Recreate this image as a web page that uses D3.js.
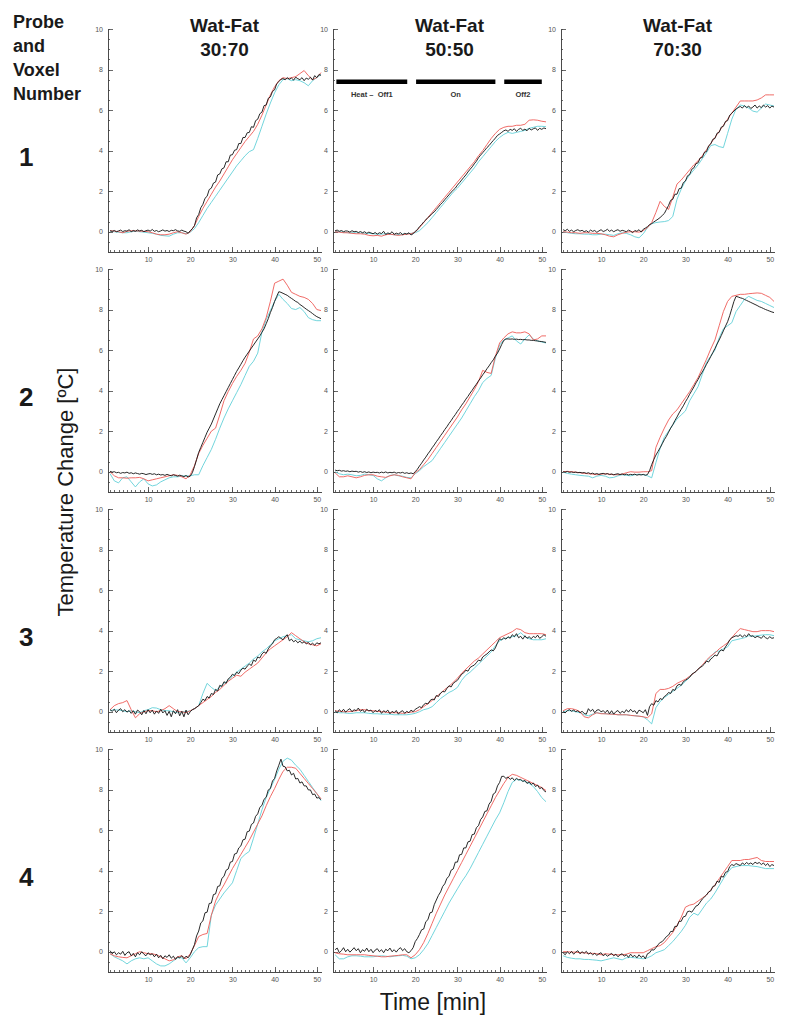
<!DOCTYPE html>
<html>
<head>
<meta charset="utf-8">
<title>Temperature change per probe and voxel</title>
<script src="https://cdn.jsdelivr.net/npm/d3@7"></script>
<style>
  body { margin: 0; background: #fff; }
  svg { display: block; }
  text { font-family: "Liberation Sans", Arial, sans-serif; }
  .tick text { fill: #555; font-size: 7px; }
  .axis path, .axis line { stroke: #444; stroke-width: 0.8; shape-rendering: crispEdges; }
</style>
</head>
<body>
<svg id="chart"></svg>
<script>
// sample grid: black = measured (every 0.5 min from t=1), red / cyan = fitted (every 1 min from t=1)
const T_START = 1,
    BLACK_STEP = 0.5,
    FIT_STEP = 1;

const mixtures = ['30:70', '50:50', '70:30'],
    probes = ['1', '2', '3', '4'],
    xTicks = [10, 20, 30, 40, 50],
    yTicks = [0, 2, 4, 6, 8, 10];

const phases = [
    {label: 'Heat \u2013\u00a0 Off1', start: 1.3, end: 18.1},
    {label: 'On', start: 20.2, end: 39.0},
    {label: 'Off2', start: 41.1, end: 50.0}
];
const phaseLevel = 7.4;

// ---- probe 1 ----
const blk11 = [
    0.05,0.02,0.06,0.00,0.04,0.08,0.01,0.05,0.03,0.10,
    0.00,0.06,0.02,0.09,0.04,0.07,0.00,0.05,0.08,0.03,
    0.11,0.02,0.06,0.00,0.04,0.09,0.03,0.06,0.01,0.07,
    0.05,0.10,0.04,0.02,0.08,0.03,0.00,-0.08,0.05,0.15,
    0.30,0.68,0.85,1.18,1.35,1.65,1.75,2.08,2.15,2.40,
    2.45,2.80,2.85,3.10,3.15,3.45,3.45,3.78,3.80,4.02,
    4.05,4.35,4.35,4.65,4.65,4.88,4.90,5.18,5.15,5.48,
    5.55,5.82,5.90,6.22,6.25,6.58,6.65,6.92,7.00,7.30,
    7.40,7.52,7.55,7.50,7.60,7.52,7.58,7.48,7.62,7.55,
    7.50,7.60,7.45,7.58,7.52,7.62,7.48,7.70,7.60,7.75,
    7.72];
const red11 = [
    0.05,0.03,0.00,-0.05,0.02,0.05,0.04,0.03,0.02,0.00,
    -0.05,-0.12,-0.15,-0.15,-0.12,-0.05,0.00,-0.05,-0.12,0.00,
    0.30,0.75,1.15,1.50,1.85,2.20,2.50,2.85,3.20,3.55,
    3.85,4.15,4.45,4.70,4.95,5.30,5.75,6.25,6.75,7.15,
    7.45,7.60,7.55,7.60,7.65,7.80,7.95,7.70,7.50,7.60,
    7.85];
const cyn11 = [
    0.02,0.00,-0.03,-0.05,-0.05,0.00,0.02,0.00,-0.02,-0.05,
    -0.08,-0.12,-0.18,-0.20,-0.22,-0.12,-0.05,-0.05,-0.10,-0.02,
    0.15,0.45,0.80,1.15,1.45,1.75,2.05,2.35,2.65,2.95,
    3.25,3.50,3.75,3.95,4.05,4.60,5.20,5.80,6.35,6.85,
    7.25,7.50,7.55,7.45,7.50,7.45,7.35,7.20,7.45,7.60,
    7.75];

const blk12 = [
    0.05,0.08,0.02,0.06,0.00,0.04,0.03,-0.02,0.05,0.00,
    0.02,-0.04,0.01,-0.05,0.00,-0.08,-0.02,-0.06,-0.10,-0.04,
    -0.12,-0.05,-0.09,0.02,-0.14,-0.06,-0.10,0.00,-0.13,-0.07,
    -0.11,-0.04,-0.15,-0.08,-0.12,-0.05,-0.16,-0.10,0.02,0.10,
    0.25,0.35,0.48,0.58,0.70,0.78,0.90,0.98,1.10,1.22,
    1.35,1.45,1.58,1.70,1.82,1.95,2.05,2.15,2.30,2.42,
    2.55,2.68,2.80,2.95,3.08,3.20,3.35,3.48,3.65,3.78,
    3.90,4.02,4.15,4.25,4.38,4.50,4.62,4.75,4.82,4.90,
    4.98,5.02,4.95,5.05,5.00,5.08,4.95,5.05,5.10,5.00,
    5.06,4.98,5.10,5.02,5.08,5.12,5.00,5.10,5.05,5.12,
    5.08];
const red12 = [
    0.00,-0.02,-0.05,-0.05,-0.08,-0.10,-0.10,-0.12,-0.18,-0.20,
    -0.18,-0.22,-0.15,-0.12,-0.15,-0.18,-0.15,-0.12,-0.10,-0.02,
    0.20,0.45,0.70,0.95,1.20,1.45,1.70,1.95,2.20,2.45,
    2.70,2.95,3.20,3.45,3.75,4.00,4.30,4.60,4.85,5.05,
    5.15,5.20,5.20,5.25,5.25,5.30,5.50,5.52,5.50,5.45,
    5.42];
const cyn12 = [
    0.02,0.00,-0.02,-0.05,-0.05,-0.05,-0.06,-0.08,-0.08,-0.10,
    -0.12,-0.12,-0.10,-0.12,-0.15,-0.15,-0.12,-0.10,-0.08,-0.05,
    0.05,0.25,0.45,0.70,0.95,1.20,1.45,1.70,1.95,2.15,
    2.40,2.65,2.90,3.15,3.45,3.70,3.95,4.20,4.45,4.65,
    4.80,4.90,4.85,4.90,4.95,5.00,5.10,5.15,5.20,5.20,
    5.18];

const blk13 = [
    0.10,0.05,0.12,0.02,0.08,0.00,0.06,0.10,0.03,0.07,
    0.00,0.05,-0.02,0.08,0.02,0.06,-0.03,0.04,0.10,0.01,
    0.05,0.12,0.02,0.08,0.00,0.06,0.10,0.02,0.07,0.04,
    0.00,0.08,0.03,-0.05,0.06,0.02,0.10,-0.02,0.12,0.18,
    0.25,0.35,0.40,0.48,0.55,0.62,0.70,0.80,0.90,1.10,
    1.30,1.55,1.60,1.85,1.85,2.12,2.15,2.42,2.50,2.76,
    2.82,3.08,3.15,3.36,3.40,3.64,3.66,3.92,3.95,4.24,
    4.33,4.56,4.60,4.86,4.90,5.16,5.20,5.44,5.48,5.75,
    5.85,5.95,6.05,6.12,6.18,6.10,6.22,6.12,6.20,6.08,
    6.15,6.25,6.10,6.20,6.12,6.25,6.15,6.22,6.10,6.20,
    6.15];
const red13 = [
    0.00,-0.02,-0.05,-0.05,-0.08,-0.05,-0.05,-0.08,-0.08,-0.10,
    -0.15,-0.22,-0.25,-0.15,-0.08,-0.02,0.00,0.00,-0.02,0.05,
    0.20,0.45,0.95,1.50,1.25,1.10,1.70,2.35,2.55,2.80,
    3.05,3.30,3.50,3.75,4.05,4.35,4.65,4.95,5.25,5.55,
    5.85,6.15,6.45,6.45,6.45,6.45,6.50,6.60,6.75,6.75,
    6.75];
const cyn13 = [
    0.00,-0.05,-0.08,-0.10,-0.10,-0.12,-0.12,-0.15,-0.15,-0.12,
    -0.12,-0.15,-0.18,-0.10,-0.05,-0.08,-0.15,-0.25,-0.30,-0.10,
    0.20,0.40,0.45,0.48,0.50,0.55,0.75,1.60,2.10,2.50,
    2.80,3.05,3.30,3.60,3.90,4.25,4.30,4.20,4.15,4.85,
    5.55,6.05,6.25,6.20,6.10,5.95,5.90,6.10,6.30,6.25,
    6.20];

// ---- probe 2 ----
const blk21 = [
    0.02,-0.02,0.00,-0.05,-0.03,-0.08,-0.04,-0.06,-0.02,-0.08,
    -0.05,-0.10,-0.06,-0.09,-0.12,-0.08,-0.10,-0.14,-0.11,-0.09,
    -0.13,-0.10,-0.15,-0.12,-0.16,-0.14,-0.18,-0.13,-0.17,-0.20,
    -0.15,-0.18,-0.22,-0.17,-0.20,-0.24,-0.19,-0.26,-0.22,-0.05,
    0.25,0.60,0.95,1.20,1.45,1.70,1.95,2.15,2.35,2.60,
    2.85,3.10,3.35,3.55,3.75,3.95,4.15,4.35,4.55,4.75,
    4.95,5.12,5.30,5.48,5.65,5.80,5.95,6.10,6.25,6.40,
    6.55,6.70,6.88,7.05,7.30,7.55,7.85,8.10,8.40,8.65,
    8.88,8.85,8.80,8.75,8.70,8.62,8.55,8.48,8.40,8.35,
    8.25,8.18,8.10,8.02,7.95,7.88,7.80,7.72,7.65,7.60,
    7.55];
const red21 = [
    0.00,-0.20,-0.30,-0.30,-0.32,-0.30,-0.30,-0.28,-0.35,-0.45,
    -0.40,-0.35,-0.30,-0.25,-0.20,-0.15,-0.18,-0.25,-0.35,-0.15,
    0.30,0.90,1.30,1.65,2.00,2.15,2.80,3.50,3.95,4.35,
    4.70,5.00,5.35,5.90,6.55,6.70,7.05,7.60,8.40,9.30,
    9.40,9.50,9.20,8.85,8.75,8.65,8.60,8.50,8.30,8.00,
    7.95];
const cyn21 = [
    -0.10,-0.45,-0.55,-0.30,-0.25,-0.50,-0.75,-0.50,-0.35,-0.60,
    -0.70,-0.65,-0.50,-0.40,-0.30,-0.25,-0.25,-0.22,-0.20,-0.20,
    -0.15,-0.15,0.30,0.70,1.10,1.60,2.15,2.65,3.10,3.50,
    3.90,4.30,4.75,5.20,5.45,5.85,6.90,7.50,7.95,8.40,
    8.75,8.50,8.30,8.05,8.00,8.10,7.90,7.60,7.50,7.45,
    7.45];

const blk22 = [
    0.08,0.05,0.07,0.03,0.05,0.02,0.04,0.00,0.03,0.01,
    0.02,-0.02,0.01,-0.03,0.00,-0.04,-0.01,-0.05,-0.02,-0.04,
    -0.03,-0.06,-0.02,-0.05,-0.01,-0.06,-0.03,-0.05,-0.02,-0.07,
    -0.04,-0.06,-0.03,-0.08,-0.05,-0.09,-0.06,-0.10,0.00,0.12,
    0.28,0.42,0.58,0.72,0.88,1.02,1.18,1.32,1.48,1.62,
    1.78,1.92,2.08,2.22,2.38,2.52,2.68,2.82,2.98,3.12,
    3.28,3.42,3.58,3.72,3.88,4.02,4.18,4.32,4.48,4.62,
    4.78,4.92,5.08,5.22,5.38,5.52,5.70,5.85,6.05,6.28,
    6.48,6.55,6.55,6.54,6.55,6.53,6.54,6.52,6.53,6.51,
    6.52,6.50,6.50,6.48,6.48,6.46,6.45,6.43,6.42,6.40,
    6.38];
const red22 = [
    -0.05,-0.25,-0.25,-0.20,-0.25,-0.30,-0.25,-0.18,-0.15,-0.15,
    -0.22,-0.25,-0.28,-0.20,-0.15,-0.18,-0.25,-0.30,-0.35,-0.05,
    0.10,0.35,0.60,0.90,1.20,1.50,1.80,2.10,2.40,2.70,
    3.05,3.35,3.70,4.05,4.45,5.00,4.90,4.85,5.70,6.35,
    6.60,6.80,6.90,6.85,6.85,6.90,6.80,6.50,6.55,6.70,
    6.70];
const cyn22 = [
    0.00,-0.10,-0.15,-0.12,-0.15,-0.20,-0.18,-0.12,-0.15,-0.18,
    -0.35,-0.45,-0.30,-0.18,-0.15,-0.20,-0.22,-0.28,-0.30,-0.10,
    0.05,0.25,0.40,0.55,0.85,1.15,1.45,1.75,2.05,2.35,
    2.65,3.00,3.35,3.70,4.00,4.40,4.60,4.75,5.60,6.25,
    6.50,6.60,6.70,6.45,6.30,6.55,6.75,6.55,6.45,6.40,
    6.35];

const blk23 = [
    0.00,-0.02,0.01,-0.03,-0.01,-0.04,-0.02,-0.05,-0.03,-0.06,
    -0.04,-0.08,-0.05,-0.10,-0.07,-0.12,-0.09,-0.13,-0.10,-0.08,
    -0.12,-0.09,-0.14,-0.11,-0.15,-0.12,-0.10,-0.14,-0.11,-0.15,
    -0.12,-0.16,-0.13,-0.15,-0.12,-0.17,-0.14,-0.16,-0.13,-0.17,
    -0.14,0.05,0.35,0.60,0.82,1.00,1.18,1.38,1.58,1.75,
    1.95,2.15,2.32,2.52,2.70,2.90,3.08,3.25,3.45,3.62,
    3.82,4.00,4.18,4.38,4.55,4.75,4.92,5.10,5.30,5.48,
    5.68,5.88,6.08,6.30,6.50,6.72,6.95,7.18,7.40,7.70,
    8.05,8.40,8.65,8.62,8.58,8.55,8.50,8.45,8.40,8.35,
    8.30,8.25,8.20,8.14,8.10,8.05,8.00,7.96,7.92,7.88,
    7.85];
const red23 = [
    0.00,0.02,0.00,-0.02,-0.05,-0.08,-0.10,-0.12,-0.15,-0.12,
    -0.10,-0.12,-0.15,-0.15,-0.12,-0.05,0.00,-0.02,-0.02,0.00,
    0.00,0.05,1.20,1.70,2.15,2.55,2.85,3.05,3.35,3.65,
    3.95,4.30,4.65,5.10,5.55,6.05,6.50,7.20,7.90,8.40,
    8.65,8.70,8.75,8.75,8.78,8.80,8.82,8.80,8.70,8.60,
    8.40];
const cyn23 = [
    -0.02,-0.08,-0.12,-0.15,-0.18,-0.20,-0.22,-0.30,-0.22,-0.18,
    -0.22,-0.30,-0.28,-0.20,-0.15,-0.18,-0.20,-0.15,-0.12,-0.15,
    -0.20,-0.30,0.45,1.15,1.70,2.00,2.30,2.60,2.80,3.00,
    3.50,3.85,4.20,4.80,5.40,5.70,6.00,6.60,7.05,7.20,
    7.35,7.90,8.20,8.50,8.65,8.55,8.45,8.40,8.30,8.20,
    8.10];

// ---- probe 3 ----
const blk31 = [
    0.10,0.02,0.12,-0.05,0.08,0.15,0.00,0.10,-0.02,0.06,
    -0.08,0.05,-0.12,0.08,0.00,-0.15,0.06,-0.10,0.10,-0.05,
    0.08,-0.12,0.04,-0.08,0.12,-0.06,0.05,-0.18,0.02,-0.25,
    0.05,-0.10,0.10,-0.20,0.02,-0.25,0.08,-0.15,0.00,0.10,
    0.15,0.22,0.30,0.45,0.62,0.55,0.75,0.68,0.90,0.85,
    1.10,1.02,1.30,1.25,1.48,1.40,1.62,1.70,1.85,1.78,
    1.95,1.88,2.05,2.15,2.10,2.25,2.35,2.28,2.55,2.48,
    2.70,2.65,2.85,2.95,2.88,3.10,3.25,3.35,3.55,3.62,
    3.70,3.62,3.55,3.70,3.80,3.50,3.58,3.45,3.52,3.40,
    3.48,3.38,3.45,3.35,3.42,3.30,3.38,3.28,3.40,3.35,
    3.40];
const red31 = [
    0.10,0.30,0.40,0.45,0.55,0.10,-0.30,-0.10,0.00,0.05,
    0.05,0.00,0.05,0.15,0.30,0.15,0.00,0.00,-0.05,0.05,
    0.15,0.30,0.45,0.60,0.75,0.95,1.10,1.30,1.50,1.65,
    1.80,1.75,1.95,2.10,2.25,2.40,2.65,2.90,3.10,3.25,
    3.40,3.55,3.70,3.90,3.75,3.60,3.45,3.35,3.30,3.25,
    3.35];
const cyn31 = [
    0.05,0.10,0.08,0.05,0.00,0.05,0.00,-0.05,0.05,0.10,
    0.20,0.18,0.10,0.05,0.05,0.00,-0.05,0.00,0.00,0.05,
    0.15,0.30,0.90,1.40,1.20,1.05,1.20,1.40,1.55,1.75,
    1.95,2.10,2.25,2.40,2.60,2.75,2.95,3.10,3.30,3.50,
    3.60,3.70,3.75,3.80,3.60,3.55,3.50,3.45,3.50,3.60,
    3.65];

const blk32 = [
    0.05,-0.05,0.10,0.00,0.12,-0.02,0.08,0.15,0.00,0.10,
    0.05,0.18,0.02,0.10,-0.03,0.12,0.04,0.08,-0.05,0.06,
    0.00,0.10,-0.08,0.05,-0.02,0.08,-0.10,0.02,-0.05,0.06,
    -0.12,0.00,0.05,-0.08,0.02,-0.05,0.08,0.00,0.12,0.18,
    0.25,0.20,0.35,0.42,0.38,0.55,0.62,0.58,0.80,0.75,
    0.92,1.00,0.98,1.15,1.28,1.22,1.40,1.48,1.55,1.70,
    1.85,1.92,2.05,2.00,2.18,2.25,2.30,2.42,2.55,2.50,
    2.70,2.78,2.85,2.95,3.05,3.00,3.15,3.40,3.60,3.55,
    3.65,3.58,3.70,3.62,3.80,3.70,3.85,3.65,3.72,3.58,
    3.75,3.62,3.70,3.60,3.72,3.65,3.78,3.62,3.70,3.80,
    3.72];
const red32 = [
    0.05,0.02,0.00,0.00,0.02,0.05,0.10,0.10,0.05,0.05,
    0.02,0.00,-0.02,-0.05,-0.05,-0.05,-0.08,-0.05,-0.02,0.00,
    0.10,0.25,0.40,0.55,0.75,0.90,1.10,1.25,1.45,1.65,
    1.90,2.10,2.30,2.50,2.65,2.85,3.05,3.25,3.45,3.65,
    3.75,3.85,3.95,4.10,4.05,3.90,3.85,3.85,3.85,3.85,
    3.80];
const cyn32 = [
    0.00,-0.05,-0.05,-0.08,-0.08,-0.05,-0.05,-0.05,-0.08,-0.10,
    -0.10,-0.12,-0.12,-0.12,-0.15,-0.15,-0.15,-0.15,-0.12,-0.08,
    0.00,0.10,0.15,0.25,0.45,0.65,0.80,0.95,1.05,1.20,
    1.55,1.80,1.95,2.15,2.35,2.55,2.75,2.95,3.25,3.50,
    3.60,3.65,3.70,3.75,3.90,3.70,3.60,3.55,3.55,3.55,
    3.60];

const blk33 = [
    0.00,-0.05,0.05,0.10,0.02,0.08,0.00,0.05,-0.05,0.02,
    -0.08,-0.12,0.15,0.02,0.12,-0.05,0.08,0.10,0.00,0.05,
    -0.05,0.08,-0.10,0.05,-0.12,0.00,0.06,-0.08,0.02,-0.05,
    0.10,-0.02,0.12,0.00,0.05,-0.10,0.08,0.02,-0.05,0.10,
    -0.18,0.25,0.40,0.32,0.55,0.48,0.65,0.60,0.75,0.82,
    0.95,0.90,1.10,1.05,1.28,1.35,1.30,1.48,1.55,1.62,
    1.70,1.85,1.92,1.98,2.10,2.18,2.25,2.35,2.50,2.45,
    2.60,2.68,2.80,2.75,2.95,3.05,3.00,3.20,3.35,3.55,
    3.65,3.70,3.75,3.72,3.80,3.68,3.78,3.70,3.85,3.72,
    3.75,3.65,3.72,3.68,3.62,3.75,3.65,3.60,3.70,3.62,
    3.65];
const red33 = [
    0.05,0.15,0.15,0.10,0.00,-0.25,-0.30,-0.15,-0.05,-0.10,
    -0.10,-0.12,-0.12,-0.15,-0.15,-0.15,-0.18,-0.20,-0.22,-0.25,
    -0.30,-0.10,0.90,1.10,1.10,1.15,1.25,1.40,1.50,1.60,
    1.75,1.90,2.10,2.30,2.55,2.75,2.90,3.10,3.25,3.40,
    3.65,3.90,4.10,4.05,4.00,3.95,3.95,4.00,4.00,4.00,
    3.95];
const cyn33 = [
    0.00,0.05,0.05,0.00,-0.05,-0.15,-0.20,-0.12,-0.05,-0.08,
    -0.10,-0.10,-0.12,-0.15,-0.15,-0.15,-0.18,-0.20,-0.22,-0.25,
    -0.40,-0.60,0.20,0.50,0.70,0.85,1.00,1.15,1.30,1.50,
    1.70,1.90,2.10,2.30,2.50,2.70,2.95,3.00,3.10,3.20,
    3.50,3.55,3.60,3.65,3.75,3.72,3.75,3.78,3.80,3.80,
    3.75];

// ---- probe 4 ----
const blk41 = [
    0.05,-0.10,0.00,-0.15,-0.05,-0.12,0.02,-0.18,-0.05,0.00,
    -0.20,-0.08,-0.25,-0.05,-0.15,0.00,-0.12,-0.20,-0.05,-0.15,
    -0.10,-0.25,-0.12,-0.30,-0.18,-0.35,-0.20,-0.28,-0.15,-0.32,
    -0.22,-0.38,-0.25,-0.30,-0.20,-0.35,-0.22,-0.30,-0.15,0.10,
    0.35,0.78,1.02,1.42,1.52,1.92,1.95,2.38,2.40,2.82,
    2.85,3.22,3.25,3.62,3.72,4.02,4.08,4.42,4.45,4.82,
    4.85,5.12,5.22,5.52,5.55,5.92,5.95,6.28,6.35,6.68,
    6.80,7.12,7.22,7.52,7.62,7.98,8.05,8.42,8.55,8.92,
    9.20,9.50,9.15,9.12,8.92,8.95,8.72,8.80,8.52,8.55,
    8.32,8.38,8.18,8.18,7.98,7.98,7.75,7.78,7.58,7.60,
    7.50];
const red41 = [
    -0.10,-0.20,-0.25,-0.28,-0.30,-0.20,-0.10,0.00,-0.05,-0.10,
    -0.10,-0.15,-0.25,-0.35,-0.45,-0.40,-0.25,-0.20,-0.35,-0.10,
    0.30,0.75,0.85,0.90,1.80,2.50,2.95,3.30,3.70,4.10,
    4.45,4.80,5.15,5.50,5.90,6.30,6.70,7.20,7.65,8.05,
    8.50,8.90,9.10,9.10,9.05,8.80,8.55,8.30,8.05,7.80,
    7.55];
const cyn41 = [
    -0.10,-0.25,-0.35,-0.45,-0.60,-0.45,-0.35,-0.30,-0.35,-0.30,
    -0.45,-0.60,-0.70,-0.70,-0.60,-0.45,-0.30,-0.30,-0.55,-0.30,
    0.00,0.20,0.25,0.25,1.80,2.30,2.60,2.90,3.15,3.40,
    4.00,4.60,4.80,4.95,5.60,6.30,7.00,7.60,8.05,8.50,
    9.00,9.40,9.55,9.45,9.20,9.00,8.70,8.40,8.10,7.80,
    7.45];

const blk42 = [
    0.10,0.18,-0.05,0.05,0.20,0.00,0.12,-0.02,0.08,0.20,
    0.05,0.15,-0.05,0.10,0.02,0.18,0.00,0.12,-0.05,0.08,
    0.15,0.00,0.10,-0.05,0.12,0.05,0.18,0.00,0.10,-0.02,
    0.12,0.20,0.05,0.15,0.00,-0.05,0.05,0.20,0.50,0.65,
    0.85,1.08,1.12,1.48,1.58,1.92,1.95,2.32,2.55,2.78,
    2.95,3.22,3.35,3.62,3.72,4.02,4.08,4.42,4.42,4.78,
    4.80,5.12,5.12,5.42,5.45,5.78,5.80,6.12,6.22,6.52,
    6.65,6.92,6.95,7.28,7.42,7.78,7.85,8.18,8.35,8.65,
    8.65,8.55,8.62,8.50,8.58,8.45,8.55,8.48,8.50,8.40,
    8.45,8.30,8.38,8.25,8.32,8.15,8.22,8.05,8.10,7.95,
    7.88];
const red42 = [
    -0.05,-0.10,-0.12,-0.15,-0.15,-0.15,-0.15,-0.15,-0.18,-0.20,
    -0.22,-0.25,-0.25,-0.22,-0.20,-0.18,-0.15,-0.15,-0.30,-0.15,
    0.10,0.45,0.90,1.40,1.90,2.35,2.80,3.20,3.60,4.00,
    4.40,4.80,5.20,5.60,6.00,6.40,6.80,7.20,7.60,7.95,
    8.30,8.60,8.75,8.70,8.60,8.50,8.40,8.30,8.20,8.10,
    7.95];
const cyn42 = [
    -0.15,-0.35,-0.35,-0.25,-0.20,-0.20,-0.22,-0.25,-0.25,-0.25,
    -0.22,-0.20,-0.22,-0.25,-0.22,-0.20,-0.18,-0.22,-0.35,-0.30,
    -0.15,0.10,0.40,0.80,1.20,1.60,2.00,2.40,2.75,3.10,
    3.45,3.75,4.10,4.50,4.90,5.30,5.70,6.10,6.50,6.85,
    7.35,7.90,8.35,8.50,8.45,8.40,8.30,8.15,7.90,7.60,
    7.40];

const blk43 = [
    -0.05,-0.15,0.00,-0.10,0.02,-0.12,-0.02,0.05,-0.10,0.00,
    -0.08,0.02,-0.12,-0.05,-0.15,-0.08,-0.18,-0.10,-0.05,-0.20,
    -0.12,-0.22,-0.15,-0.08,-0.20,-0.12,-0.25,-0.15,-0.10,-0.22,
    -0.15,-0.28,-0.12,-0.25,-0.18,-0.30,-0.15,-0.28,-0.20,-0.35,
    -0.10,-0.05,0.10,0.08,0.20,0.35,0.45,0.50,0.62,0.75,
    0.82,1.00,1.00,1.25,1.25,1.50,1.50,1.72,1.75,1.98,
    2.00,1.95,2.10,2.25,2.30,2.45,2.60,2.70,2.80,2.95,
    3.00,3.22,3.25,3.48,3.42,3.72,3.68,3.92,3.95,4.20,
    4.30,4.25,4.35,4.30,4.25,4.38,4.30,4.40,4.32,4.38,
    4.30,4.42,4.35,4.40,4.30,4.38,4.25,4.35,4.20,4.30,
    4.25];
const red43 = [
    0.00,0.00,-0.02,-0.02,-0.05,-0.05,-0.08,-0.08,-0.10,-0.15,
    -0.10,-0.12,-0.15,-0.15,-0.15,-0.12,-0.05,-0.05,-0.05,-0.05,
    0.05,0.15,0.25,0.30,0.45,0.70,0.95,1.30,1.70,2.20,
    2.30,2.35,2.50,2.65,2.80,3.05,3.30,3.60,3.90,4.20,
    4.50,4.50,4.50,4.55,4.55,4.60,4.65,4.50,4.45,4.45,
    4.45];
const cyn43 = [
    -0.20,-0.28,-0.32,-0.35,-0.35,-0.38,-0.38,-0.40,-0.42,-0.45,
    -0.40,-0.35,-0.30,-0.35,-0.40,-0.30,-0.28,-0.30,-0.32,-0.35,
    -0.30,-0.20,-0.05,0.02,0.10,0.30,0.50,0.75,1.00,1.30,
    1.70,1.90,1.80,2.10,2.40,2.60,2.90,3.25,3.60,3.90,
    4.15,4.20,4.25,4.25,4.25,4.22,4.20,4.15,4.10,4.10,
    4.10];

const panels = [
    {row: 0, col: 0, black: blk11, red: red11, cyan: cyn11},
    {row: 0, col: 1, black: blk12, red: red12, cyan: cyn12, phases: true},
    {row: 0, col: 2, black: blk13, red: red13, cyan: cyn13},
    {row: 1, col: 0, black: blk21, red: red21, cyan: cyn21},
    {row: 1, col: 1, black: blk22, red: red22, cyan: cyn22},
    {row: 1, col: 2, black: blk23, red: red23, cyan: cyn23},
    {row: 2, col: 0, black: blk31, red: red31, cyan: cyn31},
    {row: 2, col: 1, black: blk32, red: red32, cyan: cyn32},
    {row: 2, col: 2, black: blk33, red: red33, cyan: cyn33},
    {row: 3, col: 0, black: blk41, red: red41, cyan: cyn41},
    {row: 3, col: 1, black: blk42, red: red42, cyan: cyn42},
    {row: 3, col: 2, black: blk43, red: red43, cyan: cyn43}
];

var W = 795, H = 1026,
    panelW = 213, panelH = 223,
    colX = [108, 333, 561],
    rowY = [29, 269, 509, 749];

var svg = d3.select('#chart')
    .attr('width', W)
    .attr('height', H);

svg.append('rect').attr('width', W).attr('height', H).attr('fill', '#fff');

var x = d3.scaleLinear().domain([0.5, 51]).range([0, panelW]),
    y = d3.scaleLinear().domain([-1, 10]).range([panelH, 0]);

var line = d3.line()
    .x(function(d) { return x(d.t); })
    .y(function(d) { return y(d.v); });

function toPoints(values, step) {
    return values.map(function(v, i) { return {t: T_START + i * step, v: v}; });
}

panels.forEach(function(p) {
    var g = svg.append('g')
        .attr('transform', 'translate(' + colX[p.col] + ',' + rowY[p.row] + ')');

    // minor ticks
    g.append('g')
        .attr('class', 'axis')
        .call(d3.axisLeft(y).tickValues(d3.range(-1, 10.01, 0.5)).tickSize(-2).tickSizeOuter(0).tickFormat(''));
    g.append('g')
        .attr('class', 'axis')
        .attr('transform', 'translate(0,' + panelH + ')')
        .call(d3.axisBottom(x).tickValues(d3.range(1, 51, 1)).tickSize(-2.5).tickSizeOuter(0).tickFormat(''));

    // major ticks + labels
    g.append('g')
        .attr('class', 'axis')
        .call(d3.axisLeft(y).tickValues(yTicks).tickSize(-4.5).tickSizeOuter(0).tickPadding(5));
    g.append('g')
        .attr('class', 'axis')
        .attr('transform', 'translate(0,' + panelH + ')')
        .call(d3.axisBottom(x).tickValues(xTicks).tickSize(-5).tickSizeOuter(0).tickPadding(5));

    [['cyan', '#62d0d8', 0.9], ['red', '#ee5b57', 0.9]].forEach(function(s) {
        g.append('path')
            .attr('d', line(toPoints(p[s[0]], FIT_STEP)))
            .attr('fill', 'none')
            .attr('stroke', s[1])
            .attr('stroke-width', s[2]);
    });

    g.append('path')
        .attr('d', line(toPoints(p.black, BLACK_STEP)))
        .attr('fill', 'none')
        .attr('stroke', '#111')
        .attr('stroke-width', 0.9)
        .attr('stroke-linejoin', 'round');

    if (p.phases) {
        g.selectAll('.phase')
            .data(phases)
        .enter().append('line')
            .attr('x1', function(d) { return x(d.start); })
            .attr('x2', function(d) { return x(d.end); })
            .attr('y1', y(phaseLevel))
            .attr('y2', y(phaseLevel))
            .attr('stroke', '#000')
            .attr('stroke-width', 4.5);
        g.selectAll('.phase-label')
            .data(phases)
        .enter().append('text')
            .attr('x', function(d) { return x((d.start + d.end) / 2); })
            .attr('y', y(phaseLevel) + 15)
            .attr('text-anchor', 'middle')
            .attr('font-size', '7.5px')
            .attr('font-weight', 'bold')
            .attr('fill', '#333')
            .text(function(d) { return d.label; });
    }
});

// column titles
mixtures.forEach(function(m, i) {
    var cx = colX[i] + panelW / 2 + 10;
    var t = svg.append('text')
        .attr('x', cx)
        .attr('text-anchor', 'middle')
        .attr('font-weight', 'bold')
        .attr('font-size', '19px')
        .attr('fill', '#1a1a1a');
    t.append('tspan').attr('x', cx).attr('y', 32).text('Wat-Fat');
    t.append('tspan').attr('x', cx).attr('y', 56).text(m);
});

// left header
['Probe', 'and', 'Voxel', 'Number'].forEach(function(s, i) {
    svg.append('text')
        .attr('x', 13)
        .attr('y', 28 + i * 24)
        .attr('font-weight', 'bold')
        .attr('font-size', '18px')
        .attr('fill', '#1a1a1a')
        .text(s);
});

probes.forEach(function(s, i) {
    svg.append('text')
        .attr('x', 19)
        .attr('y', 166 + i * 240)
        .attr('font-weight', 'bold')
        .attr('font-size', '26px')
        .attr('fill', '#1a1a1a')
        .text(s);
});

svg.append('text')
    .attr('transform', 'translate(73,492) rotate(-90)')
    .attr('text-anchor', 'middle')
    .attr('font-size', '22px')
    .attr('fill', '#1a1a1a')
    .text('Temperature Change [\u00baC]');

svg.append('text')
    .attr('x', 433)
    .attr('y', 1010)
    .attr('text-anchor', 'middle')
    .attr('font-size', '23px')
    .attr('fill', '#1a1a1a')
    .text('Time [min]');
</script>
</body>
</html>
